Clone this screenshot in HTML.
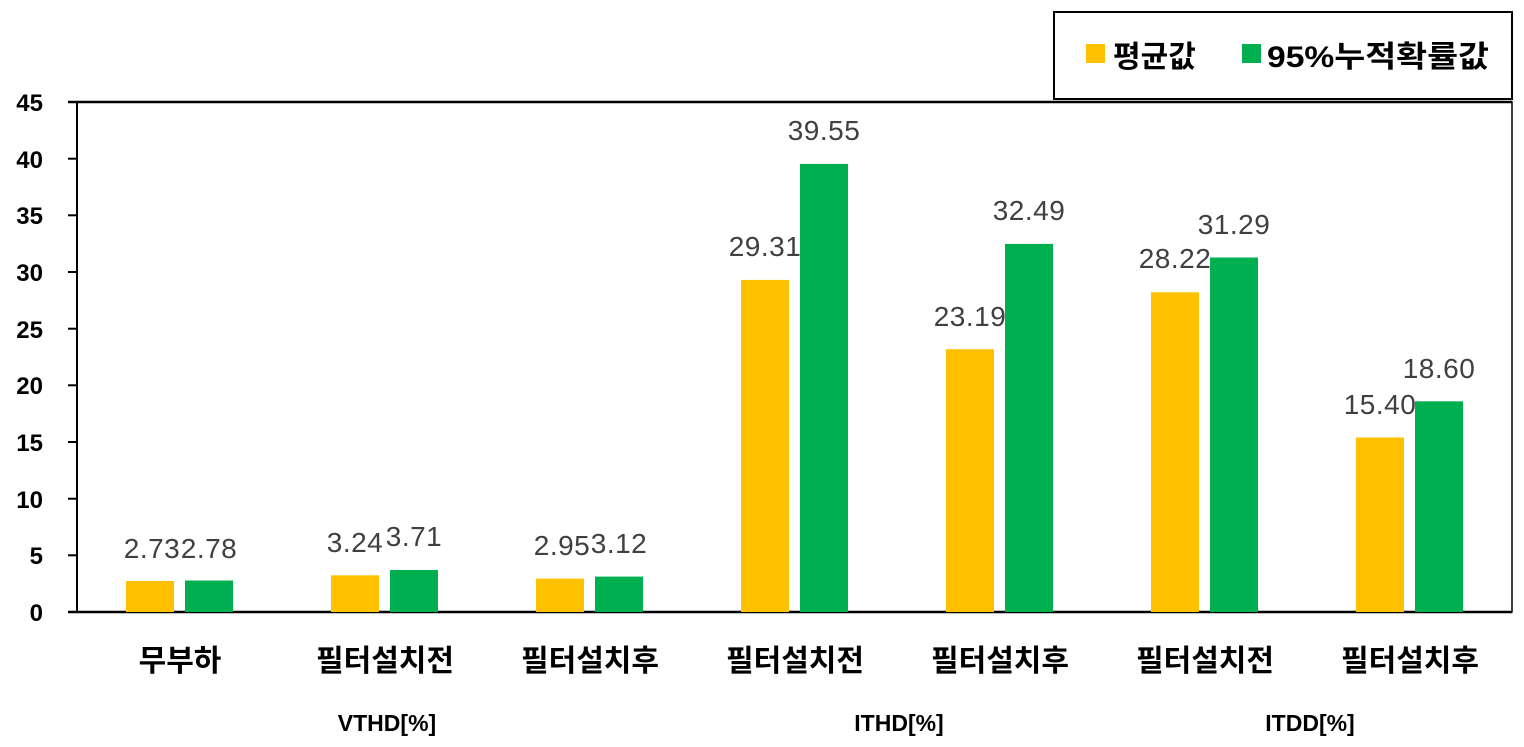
<!DOCTYPE html>
<html><head><meta charset="utf-8"><style>
html,body{margin:0;padding:0;background:#fff;}
svg{display:block;font-family:"Liberation Sans","Noto Sans CJK KR",sans-serif;}
.v{font-size:28px;fill:#404040;text-anchor:middle;letter-spacing:0.5px;}
.t{font-size:24px;font-weight:bold;text-anchor:end;}
.c{font-size:30px;font-weight:bold;text-anchor:middle;}
.g{font-size:23px;font-weight:bold;text-anchor:middle;}
</style></head><body>
<svg width="1524" height="747" viewBox="0 0 1524 747">
<rect x="77" y="102" width="1435" height="510" fill="none" stroke="#000" stroke-width="1.5"/>
<line x1="77" y1="102" x2="77" y2="612" stroke="#000" stroke-width="2"/>
<line x1="68" y1="612" x2="1512" y2="612" stroke="#000" stroke-width="2.5"/>
<line x1="68" y1="102" x2="1512" y2="102" stroke="#000" stroke-width="2.5"/>
<g stroke="#000" stroke-width="2">
<line x1="68" y1="158.7" x2="77" y2="158.7"/><line x1="68" y1="215.3" x2="77" y2="215.3"/>
<line x1="68" y1="272" x2="77" y2="272"/><line x1="68" y1="328.7" x2="77" y2="328.7"/>
<line x1="68" y1="385.3" x2="77" y2="385.3"/><line x1="68" y1="442" x2="77" y2="442"/>
<line x1="68" y1="498.7" x2="77" y2="498.7"/><line x1="68" y1="555.3" x2="77" y2="555.3"/>
</g>
<g class="t">
<text x="43" y="111">45</text><text x="43" y="168">40</text><text x="43" y="224">35</text>
<text x="43" y="281">30</text><text x="43" y="338">25</text><text x="43" y="394">20</text>
<text x="43" y="451">15</text><text x="43" y="508">10</text><text x="43" y="564">5</text>
<text x="43" y="621">0</text>
</g>
<g>
<rect x="126" y="581" width="48" height="31" fill="#FFC000"/><rect x="185" y="580.5" width="48" height="31.5" fill="#00B050"/>
<rect x="331" y="575.3" width="48" height="36.7" fill="#FFC000"/><rect x="390" y="570" width="48" height="42" fill="#00B050"/>
<rect x="536" y="578.6" width="48" height="33.4" fill="#FFC000"/><rect x="595" y="576.6" width="48" height="35.4" fill="#00B050"/>
<rect x="741" y="279.9" width="48" height="332.1" fill="#FFC000"/><rect x="800" y="163.9" width="48" height="448.1" fill="#00B050"/>
<rect x="946" y="349.2" width="48" height="262.8" fill="#FFC000"/><rect x="1005" y="243.9" width="48" height="368.1" fill="#00B050"/>
<rect x="1151" y="292.3" width="48" height="319.7" fill="#FFC000"/><rect x="1210" y="257.5" width="48" height="354.5" fill="#00B050"/>
<rect x="1356" y="437.5" width="48" height="174.5" fill="#FFC000"/><rect x="1415" y="401.3" width="48" height="210.7" fill="#00B050"/>
</g>
<g class="v">
<text x="152" y="558">2.73</text><text x="209" y="558">2.78</text>
<text x="355" y="552">3.24</text><text x="414" y="546">3.71</text>
<text x="562" y="555">2.95</text><text x="619" y="553">3.12</text>
<text x="765" y="256">29.31</text><text x="824" y="140">39.55</text>
<text x="970" y="326">23.19</text><text x="1029" y="220">32.49</text>
<text x="1175" y="268">28.22</text><text x="1234" y="234">31.29</text>
<text x="1380" y="414">15.40</text><text x="1439" y="378">18.60</text>
</g>
<g class="c">
<text x="180" y="671">무부하</text><text x="385" y="671">필터설치전</text><text x="590" y="671">필터설치후</text>
<text x="795" y="671">필터설치전</text><text x="1000" y="671">필터설치후</text><text x="1205" y="671">필터설치전</text>
<text x="1410" y="671">필터설치후</text>
</g>
<g class="g">
<text x="387" y="731">VTHD[%]</text><text x="899" y="731">ITHD[%]</text><text x="1310" y="731">ITDD[%]</text>
</g>
<rect x="1054" y="12" width="458" height="87" fill="#fff" stroke="#000" stroke-width="2"/>
<rect x="1086" y="44" width="19" height="19" fill="#FFC000"/>
<rect x="1242" y="44" width="19" height="19" fill="#00B050"/>
<text x="1113" y="67" style="font-size:30px;font-weight:bold">평균값</text>
<text x="1267" y="67" style="font-size:30px;font-weight:bold" textLength="222" lengthAdjust="spacingAndGlyphs">95%누적확률값</text>
</svg>
</body></html>
